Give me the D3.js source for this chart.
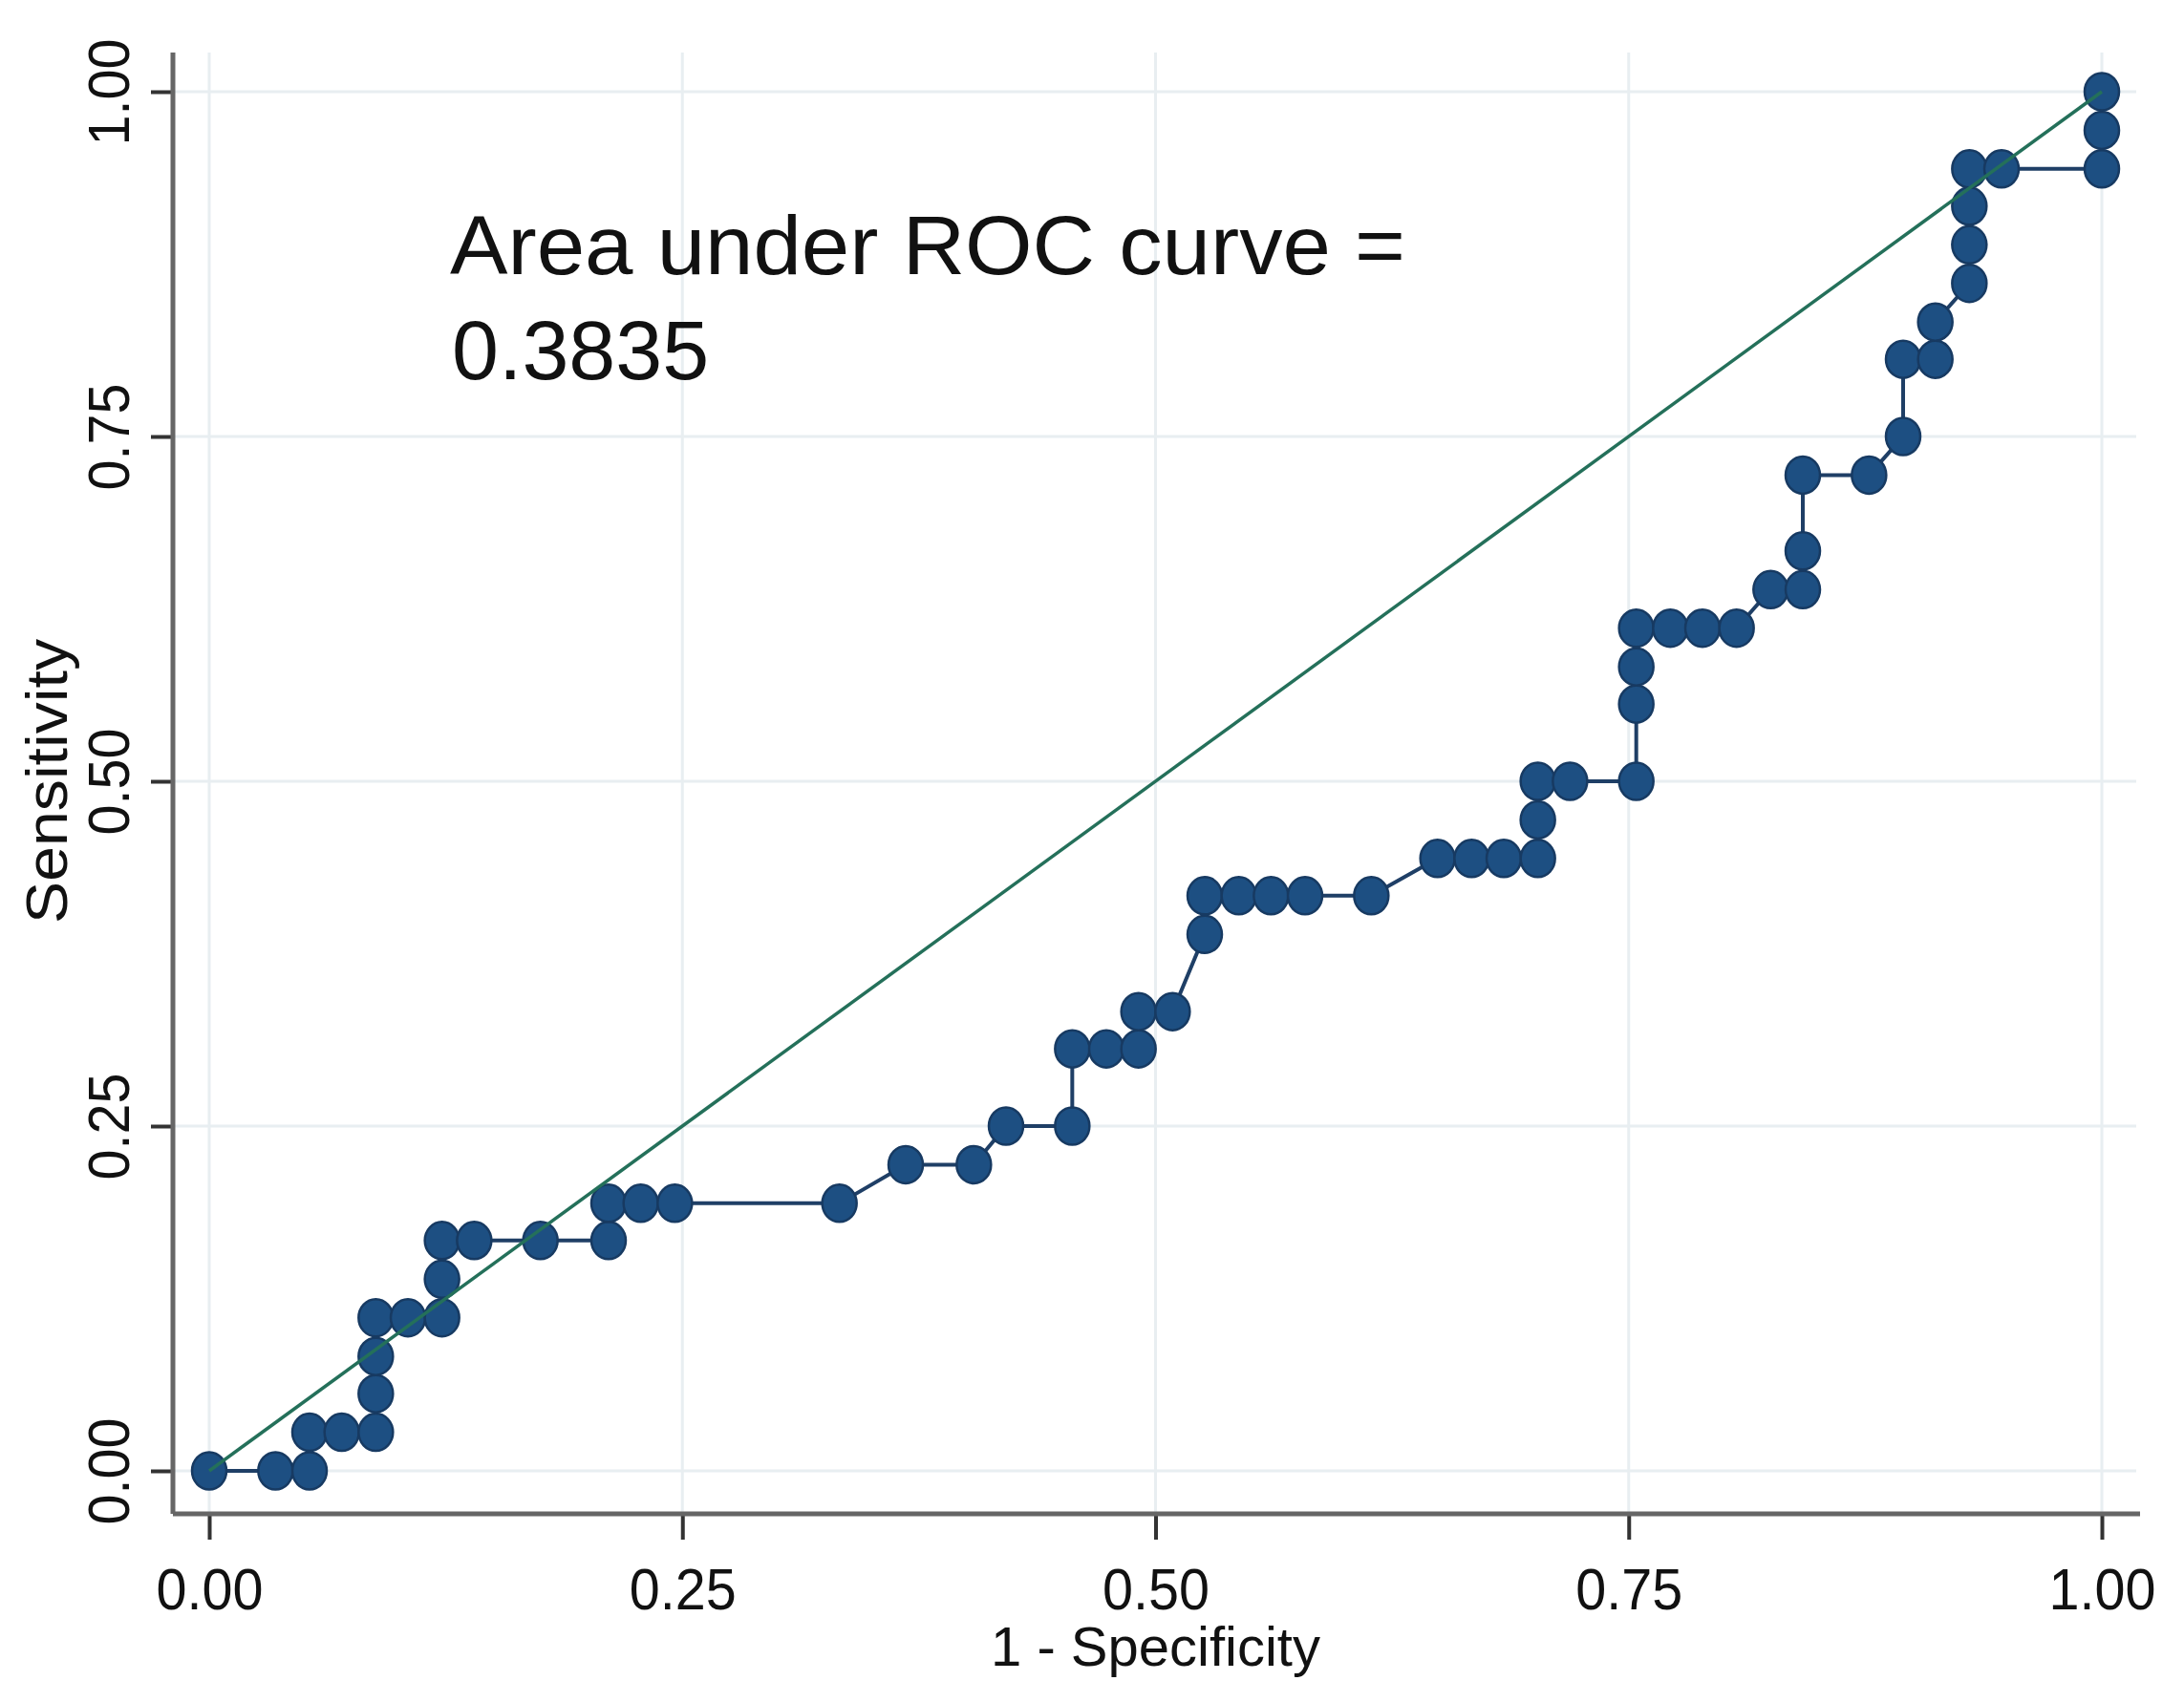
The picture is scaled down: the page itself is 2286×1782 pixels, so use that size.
<!DOCTYPE html>
<html>
<head>
    <meta charset="utf-8">
    <title>ROC curve</title>
</head>
<body>
<style type="text/css">
    body {
        margin: 0;
        background: #fff;
    }

    #renderer {
        width: 2286px;
        height: 1782px;
        background: #FFF;
        display: block;
    }
</style>
<script type="text/javascript" src="https://cdnjs.cloudflare.com/ajax/libs/d3/7.8.5/d3.min.js"></script>
<svg id='renderer'></svg>

<script type="text/javascript">
    // values: 1 - specificity and sensitivity at each cut point
    var falsePositiveRate = [0, 0.035, 0.053, 0.053, 0.070, 0.088, 0.088, 0.088, 0.088, 0.105,
        0.123, 0.123, 0.123, 0.140, 0.175, 0.211, 0.211, 0.228, 0.246, 0.333,
        0.368, 0.404, 0.421, 0.456, 0.456, 0.474, 0.491, 0.491, 0.509, 0.526,
        0.526, 0.544, 0.561, 0.579, 0.614, 0.649, 0.667, 0.684, 0.702, 0.702,
        0.702, 0.719, 0.754, 0.754, 0.754, 0.754, 0.772, 0.789, 0.807, 0.825,
        0.842, 0.842, 0.842, 0.877, 0.895, 0.895, 0.912, 0.912, 0.930, 0.930,
        0.930, 0.930, 0.947, 1, 1, 1];
    var sensitivity = [0, 0, 0, 0.028, 0.028, 0.028, 0.056, 0.083, 0.111, 0.111,
        0.111, 0.139, 0.167, 0.167, 0.167, 0.167, 0.194, 0.194, 0.194, 0.194,
        0.222, 0.222, 0.250, 0.250, 0.306, 0.306, 0.306, 0.333, 0.333, 0.389,
        0.417, 0.417, 0.417, 0.417, 0.417, 0.444, 0.444, 0.444, 0.444, 0.472,
        0.500, 0.500, 0.500, 0.556, 0.583, 0.611, 0.611, 0.611, 0.611, 0.639,
        0.639, 0.667, 0.722, 0.722, 0.750, 0.806, 0.806, 0.833, 0.861, 0.889,
        0.917, 0.944, 0.944, 0.944, 0.972, 1];
    var referenceLine = [0, 1];
    var tickValues = [0, 0.25, 0.5, 0.75, 1];
    var annotationLines = ['Area under ROC curve =', '0.3835'];

    var root = d3.select('#renderer');
    var font = '"Liberation Sans", Arial, Helvetica, sans-serif';

    // plot region
    var axisLeft = 181;
    var axisBottom = 1585;
    var axisRight = 2240;
    var axisTop = 55;

    var x = d3.scaleLinear().domain([0, 1]).range([219, 2200]);
    var y = d3.scaleLinear().domain([0, 1]).range([1540, 96]);

    // grid lines
    root.append('g').selectAll('line').data(tickValues).enter().append('line')
        .attr('x1', axisLeft).attr('x2', axisRight - 4)
        .attr('y1', function (d) { return y(d); })
        .attr('y2', function (d) { return y(d); })
        .attr('stroke', '#e8eef1').attr('stroke-width', 3);
    root.append('g').selectAll('line').data(tickValues).enter().append('line')
        .attr('x1', function (d) { return x(d); })
        .attr('x2', function (d) { return x(d); })
        .attr('y1', axisTop).attr('y2', axisBottom)
        .attr('stroke', '#e8eef1').attr('stroke-width', 3);

    // axes
    var xAxis = root.append('g')
        .attr('transform', 'translate(0,' + axisBottom + ')')
        .call(d3.axisBottom(x).tickValues(tickValues).tickFormat(d3.format('.2f'))
            .tickSize(27).tickSizeOuter(0).tickPadding(12));
    var yAxis = root.append('g')
        .attr('transform', 'translate(' + axisLeft + ',0)')
        .call(d3.axisLeft(y).tickValues(tickValues).tickFormat(d3.format('.2f'))
            .tickSize(23).tickSizeOuter(0).tickPadding(0));

    [xAxis, yAxis].forEach(function (a) {
        a.select('.domain').remove();
        a.selectAll('.tick line').attr('stroke', '#333').attr('stroke-width', 4);
        a.selectAll('.tick text')
            .attr('fill', '#111')
            .attr('textLength', 112)
            .attr('lengthAdjust', 'spacingAndGlyphs')
            .style('font-family', font)
            .style('font-size', '62px');
    });
    xAxis.selectAll('.tick text').attr('dy', null).attr('y', 100);
    yAxis.selectAll('.tick text')
        .attr('x', null).attr('dy', null)
        .attr('text-anchor', 'middle')
        .attr('transform', 'translate(-46,0) rotate(-90)');

    root.append('line')
        .attr('x1', axisLeft).attr('x2', axisRight)
        .attr('y1', axisBottom).attr('y2', axisBottom)
        .attr('stroke', '#666').attr('stroke-width', 5);
    root.append('line')
        .attr('x1', axisLeft).attr('x2', axisLeft)
        .attr('y1', axisTop).attr('y2', axisBottom)
        .attr('stroke', '#666').attr('stroke-width', 5);

    // axis titles
    root.append('text')
        .text('1 - Specificity')
        .attr('x', (x(0) + x(1)) / 2)
        .attr('y', 1744)
        .attr('text-anchor', 'middle')
        .attr('textLength', 345)
        .attr('lengthAdjust', 'spacingAndGlyphs')
        .attr('fill', '#111')
        .style('font-family', font)
        .style('font-size', '57px');
    root.append('text')
        .text('Sensitivity')
        .attr('transform', 'translate(70,' + y(0.5) + ') rotate(-90)')
        .attr('text-anchor', 'middle')
        .attr('textLength', 298)
        .attr('lengthAdjust', 'spacingAndGlyphs')
        .attr('fill', '#111')
        .style('font-family', font)
        .style('font-size', '62px');

    // ROC curve
    var points = falsePositiveRate.map(function (d, i) { return [d, sensitivity[i]]; });
    var line = d3.line()
        .x(function (d) { return x(d[0]); })
        .y(function (d) { return y(d[1]); });

    root.append('path')
        .datum(points)
        .attr('d', line)
        .attr('fill', 'none')
        .attr('stroke', '#1f3f66')
        .attr('stroke-width', 4);

    root.append('g').selectAll('ellipse').data(points).enter().append('ellipse')
        .attr('cx', function (d) { return x(d[0]); })
        .attr('cy', function (d) { return y(d[1]); })
        .attr('rx', 18)
        .attr('ry', 19.5)
        .attr('fill', '#1d4f82')
        .attr('stroke', '#173a62')
        .attr('stroke-width', 2.5);

    // reference diagonal
    root.append('path')
        .datum(referenceLine.map(function (d) { return [d, d]; }))
        .attr('d', line)
        .attr('fill', 'none')
        .attr('stroke', '#24705a')
        .attr('stroke-width', 3.5);

    // annotation
    root.append('text')
        .attr('x', 471)
        .attr('y', 287)
        .attr('textLength', 1000)
        .attr('lengthAdjust', 'spacingAndGlyphs')
        .attr('fill', '#111')
        .style('font-family', font)
        .style('font-size', '87px')
        .text(annotationLines[0]);
    root.append('text')
        .attr('x', 473)
        .attr('y', 397)
        .attr('fill', '#111')
        .style('font-family', font)
        .style('font-size', '88px')
        .text(annotationLines[1]);
</script>
</body>
</html>
